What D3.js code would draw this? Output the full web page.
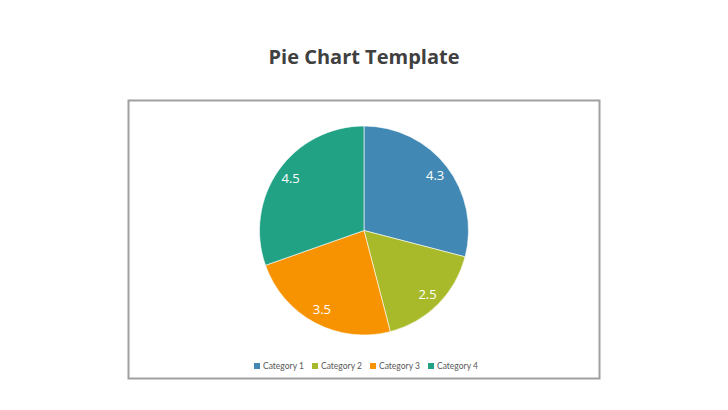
<!DOCTYPE html>
<html>
<head>
<meta charset="utf-8">
<script src="https://cdn.jsdelivr.net/npm/d3@7"></script>
<style>
  body { margin: 0; background: #fff; }
  svg text { font-family: "Open Sans", "Noto Sans", sans-serif; }
</style>
</head>
<body>
<div id="chart"></div>
<script>
var categories = ["Category 1", "Category 2", "Category 3", "Category 4"];
var values = [4.3, 2.5, 3.5, 4.5];
var colors = ["#4189b4", "#a8ba2a", "#f79300", "#21a285"];

var width = 728, height = 410;

var svg = d3.select("#chart").append("svg")
    .attr("width", width)
    .attr("height", height);

// title
svg.append("text")
    .attr("x", 364)
    .attr("y", 64)
    .attr("text-anchor", "middle")
    .attr("font-size", 20)
    .attr("font-weight", "bold")
    .attr("fill", "#404040")
    .text("Pie Chart Template");

// chart frame
svg.append("rect")
    .attr("x", 128.5)
    .attr("y", 100.5)
    .attr("width", 471)
    .attr("height", 278)
    .attr("fill", "#fff")
    .attr("stroke", "#a0a0a0")
    .attr("stroke-width", 2);

var radius = 104.5;
var g = svg.append("g")
    .attr("transform", "translate(364,230.5)");

var pie = d3.pie().sort(null).value(function(d) { return d; });
var arc = d3.arc().innerRadius(0).outerRadius(radius);
var labelArc = d3.arc().innerRadius(radius * 0.86).outerRadius(radius * 0.86);

var arcs = pie(values);

g.selectAll("path")
    .data(arcs)
    .enter()
    .append("path")
    .attr("d", arc)
    .attr("fill", function(d, i) { return colors[i]; })
    .attr("stroke", "#fff")
    .attr("stroke-width", 0.6);

g.selectAll("text.lbl")
    .data(arcs)
    .enter()
    .append("text")
    .attr("class", "lbl")
    .attr("transform", function(d) { return "translate(" + labelArc.centroid(d) + ")"; })
    .attr("dy", "0.35em")
    .attr("text-anchor", "middle")
    .attr("font-size", 13)
    .attr("fill", "#fff")
    .text(function(d) { return d.data; });

// legend
var legendX = d3.scalePoint().domain(categories).range([257, 431]);

var legend = svg.append("g");
var items = legend.selectAll("g")
    .data(categories)
    .enter()
    .append("g")
    .attr("transform", function(d) { return "translate(" + legendX(d) + ",366)"; });

items.append("rect")
    .attr("x", -3)
    .attr("y", -3)
    .attr("width", 6)
    .attr("height", 6)
    .attr("fill", function(d, i) { return colors[i]; });

items.append("text")
    .attr("x", 6)
    .attr("dy", "0.35em")
    .attr("font-size", 8.5)
    .attr("fill", "#595959")
    .style("font-family", "Lato, 'Open Sans', sans-serif")
    .text(function(d) { return d; });
</script>
</body>
</html>
